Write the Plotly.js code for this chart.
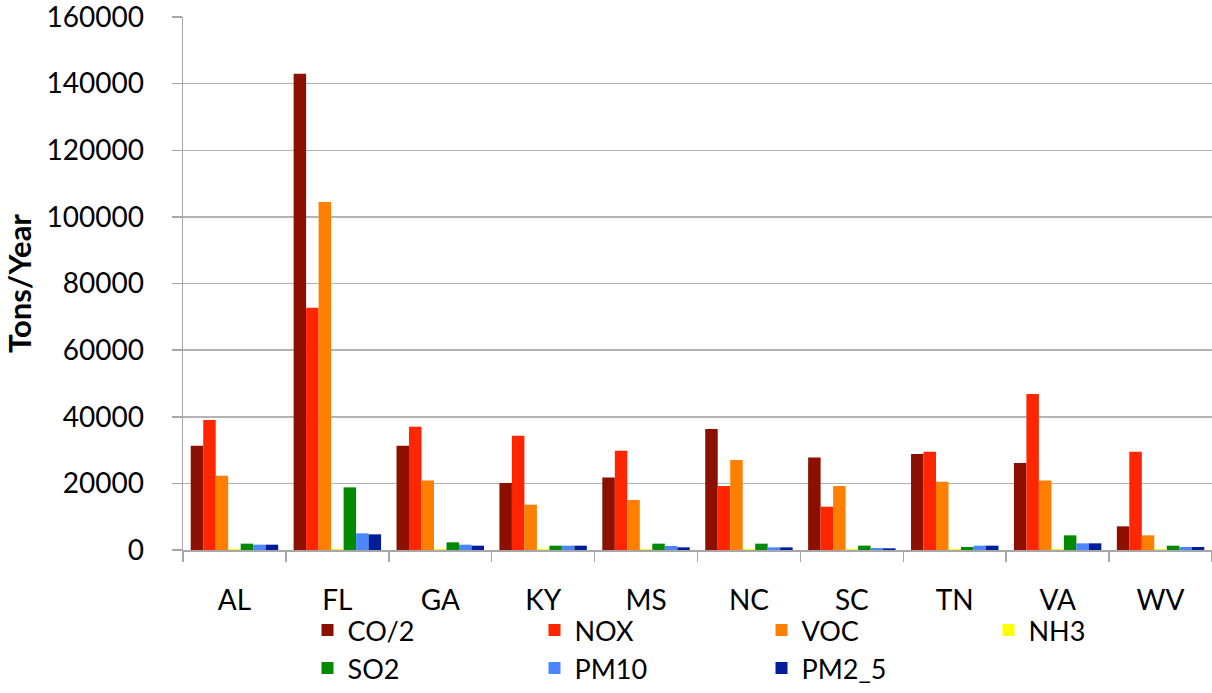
<!DOCTYPE html>
<html>
<head>
<meta charset="utf-8">
<script src="https://cdn.plot.ly/plotly-3.0.1.min.js"></script>
<style>html,body{margin:0;padding:0;background:#fff;}#chart{width:1212px;height:693px;}</style>
</head>
<body>
<div id="chart"></div>
<script>
const states = ["AL","FL","GA","KY","MS","NC","SC","TN","VA","WV"];
const seriesNames = ["CO/2","NOX","VOC","NH3","SO2","PM10","PM2_5"];
const co2  = [31300, 143000, 31300, 20100, 21800, 36300, 27800, 28800, 26100, 7100];
const nox  = [39000,  72700, 37000, 34300, 29800, 19200, 13000, 29500, 46800, 29500];
const voc  = [22300, 104500, 20900, 13600, 15000, 27000, 19200, 20500, 20900, 4400];
const nh3  = [300, 300, 300, 300, 300, 300, 300, 300, 300, 300];
const so2  = [1900, 18800, 2300, 1300, 1900, 1900, 1300, 900, 4400, 1300];
const pm10 = [1600, 5000, 1600, 1300, 1200, 800, 600, 1300, 2000, 900];
const pm25 = [1600, 4700, 1300, 1300, 800, 800, 500, 1300, 2000, 900];
const colors = ["#8c1000","#ff2600","#ff7f00","#ffff00","#008a00","#4a86ff","#001e9c"];

const values = [co2, nox, voc, nh3, so2, pm10, pm25];
const FONT = "Lato, 'Open Sans', sans-serif";

const traces = seriesNames.map((name, i) => ({
  type: "bar",
  name: name,
  x: states,
  y: values[i],
  marker: {color: colors[i], line: {width: 0}},
  hoverinfo: "x+y+name"
}));

const layout = {
  width: 1212,
  height: 693,
  margin: {l: 183, r: 0, t: 17, b: 143, pad: 0, autoexpand: false},
  paper_bgcolor: "#ffffff",
  plot_bgcolor: "#ffffff",
  font: {family: FONT, size: 28, color: "#000"},
  barmode: "group",
  bargap: 0.15,
  bargroupgap: 0,
  showlegend: true,
  legend: {
    orientation: "h",
    x: 0.121, xanchor: "left",
    y: -0.105, yanchor: "top",
    entrywidth: 182, entrywidthmode: "pixels",
    font: {family: FONT, size: 27, color: "#000"},
    tracegroupgap: 0,
    bgcolor: "rgba(0,0,0,0)"
  },
  xaxis: {
    type: "category",
    showline: true, linecolor: "#a6a6a6", linewidth: 1.5,
    ticks: "outside", tickson: "boundaries", ticklen: 10, tickcolor: "#a6a6a6", tickwidth: 1.5,
    tickfont: {family: FONT, size: 28, color: "#000"},
    ticklabelstandoff: 25,
    showgrid: false, zeroline: false,
    fixedrange: true
  },
  yaxis: {
    range: [0, 160000],
    tick0: 0, dtick: 20000,
    tickformat: "d",
    showline: true, linecolor: "#a6a6a6", linewidth: 1.5,
    ticks: "outside", ticklen: 10, tickcolor: "#a6a6a6", tickwidth: 1.5,
    showgrid: true, gridcolor: "#b3b3b3", gridwidth: 1.5,
    zeroline: false,
    tickfont: {family: FONT, size: 28, color: "#000"},
    ticklabelstandoff: 22,
    ticklabeloverflow: "allow",
    title: {text: "<b>Tons/Year</b>", font: {family: FONT, size: 31, color: "#000"}, standoff: 6},
    fixedrange: true
  }
};

Plotly.newPlot("chart", traces, layout, {displayModeBar: false, staticPlot: true});
</script>
</body>
</html>
